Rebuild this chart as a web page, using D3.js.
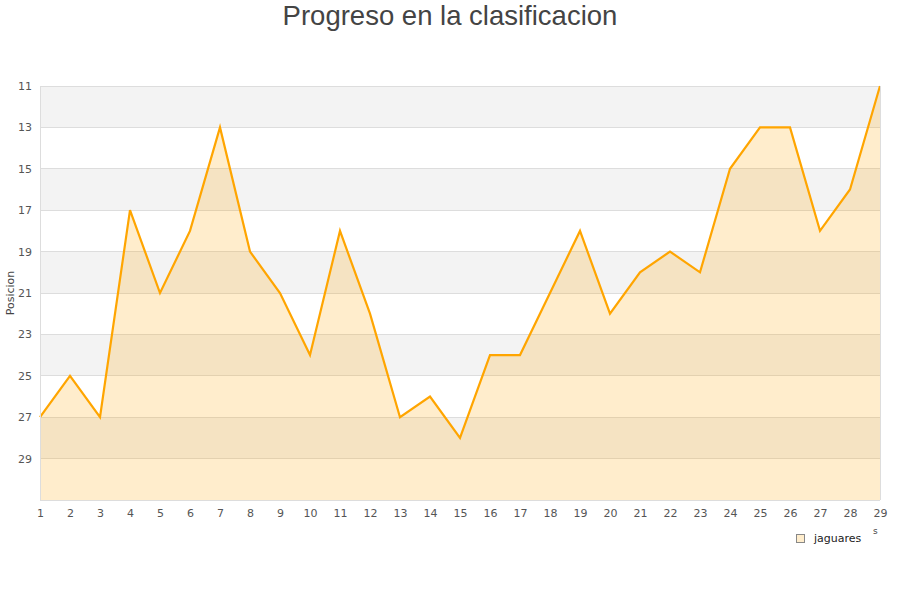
<!DOCTYPE html>
<html><head><meta charset="utf-8">
<script src="https://cdn.jsdelivr.net/npm/d3@7"></script>
<style>body{margin:0;background:#fff;} svg{display:block;}</style>
</head><body>
<svg id="chart" width="900" height="600"></svg>
<script>
const jornadas = [1,2,3,4,5,6,7,8,9,10,11,12,13,14,15,16,17,18,19,20,21,22,23,24,25,26,27,28,29];
const posiciones = [27,25,27,17,21,18,13,19,21,24,18,22,27,26,28,24,24,21,18,22,20,19,20,15,13,13,18,16,11];
const yTicks = [11,13,15,17,19,21,23,25,27,29];
const seriesName = "jaguares";
const titleText = "Progreso en la clasificacion";
const yLabel = "Posicion";

const svg = d3.select("#chart");
const L = 40, R = 880, T = 86, B = 500;
const x = d3.scaleLinear().domain([1,29]).range([L,R]);
const y = d3.scaleLinear().domain([11,31]).range([T,B]);

// bands
const bandStarts = [11,15,19,23,27];
svg.append("g").selectAll("rect").data(bandStarts).join("rect")
  .attr("x", L).attr("width", R-L)
  .attr("y", d=>y(d)).attr("height", d=>y(d+2)-y(d))
  .attr("fill", "#f3f3f3");

// gridlines
svg.append("g").selectAll("line").data(yTicks).join("line")
  .attr("x1", L).attr("x2", R).attr("y1", d=>y(d)).attr("y2", d=>y(d))
  .attr("stroke", "#dddddd").attr("stroke-width", 1).attr("shape-rendering","crispEdges");

const data = jornadas.map((j,i)=>({j, p: posiciones[i]}));

// area
svg.append("path").datum(data)
  .attr("d", d3.area().x(d=>x(d.j)).y0(B).y1(d=>y(d.p)))
  .attr("fill", "rgba(255,165,0,0.2)");

// line
svg.append("path").datum(data)
  .attr("d", d3.line().x(d=>x(d.j)).y(d=>y(d.p)))
  .attr("fill", "none").attr("stroke", "#ffa500").attr("stroke-width", 2.2)
  .attr("stroke-linejoin","miter");

// axis frame
svg.append("line").attr("x1",L).attr("x2",L).attr("y1",T).attr("y2",B)
  .attr("stroke","#dddddd").attr("shape-rendering","crispEdges");
svg.append("line").attr("x1",R).attr("x2",R).attr("y1",T).attr("y2",B)
  .attr("stroke","#dddddd").attr("shape-rendering","crispEdges");
svg.append("line").attr("x1",L).attr("x2",R).attr("y1",B).attr("y2",B)
  .attr("stroke","#dddddd").attr("shape-rendering","crispEdges");

// y axis
const yAxis = d3.axisLeft(y).tickValues(yTicks).tickSize(0).tickPadding(8);
const gy = svg.append("g").attr("transform",`translate(${L},0)`).call(yAxis);
gy.select(".domain").remove();
gy.selectAll("text").attr("font-family","DejaVu Sans").attr("font-size",11).attr("fill","#555");

// x axis
const xAxis = d3.axisBottom(x).tickValues(jornadas).tickSize(0).tickPadding(9).tickFormat(d3.format("d"));
const gx = svg.append("g").attr("transform",`translate(0,${B})`).call(xAxis);
gx.select(".domain").remove();
gx.selectAll("text").attr("font-family","DejaVu Sans").attr("font-size",11).attr("fill","#555");

// y label
svg.append("text").attr("transform","translate(14,293) rotate(-90)")
  .attr("text-anchor","middle").attr("font-family","DejaVu Sans").attr("font-size",11).attr("fill","#444")
  .text(yLabel);

// title
svg.append("text").attr("x",450).attr("y",25).attr("text-anchor","middle")
  .attr("font-family","Liberation Sans, Arial, sans-serif").attr("font-size",27.5).attr("fill","#444")
  .text(titleText);

// legend
svg.append("rect").attr("x",796.5).attr("y",534.5).attr("width",8).attr("height",8)
  .attr("fill","#ffedcc").attr("stroke","#888").attr("stroke-width",1);
svg.append("text").attr("x",814).attr("y",542).attr("font-family","DejaVu Sans").attr("font-size",11).attr("fill","#222")
  .text(seriesName);
svg.append("text").attr("x",873).attr("y",534).attr("font-family","DejaVu Sans").attr("font-size",9).attr("fill","#444")
  .text("s");
</script>
</body></html>
